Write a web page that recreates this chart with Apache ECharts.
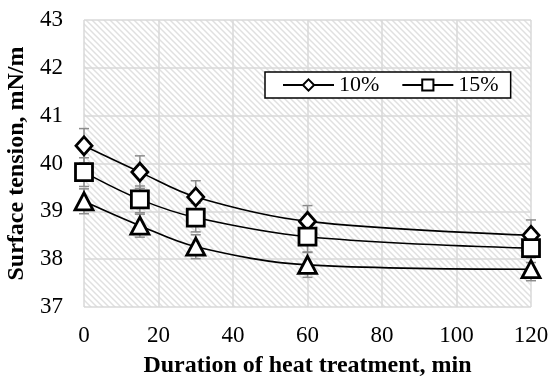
<!DOCTYPE html>
<html>
<head>
<meta charset="utf-8">
<script src="https://cdn.jsdelivr.net/npm/echarts@6/dist/echarts.min.js"></script>
<style>
  html, body { margin: 0; padding: 0; background: #fff; }
  #chart { width: 548px; height: 383px; }
</style>
</head>
<body>
<div id="chart"></div>
<script>
// heat treatment duration, min
const durations = [0, 15, 30, 60, 120];
// surface tension, mN/m
const tension10 = [40.37, 39.82, 39.30, 38.79, 38.50];
const tension15 = [39.82, 39.25, 38.87, 38.47, 38.23];
const tension3 = [39.21, 38.70, 38.26, 37.88, 37.79];
// error bar half widths
const err10 = [0.36, 0.34, 0.34, 0.33, 0.32];
const err15 = [0.30, 0.28, 0.30, 0.32, 0.30];
const err3 = [0.26, 0.24, 0.25, 0.26, 0.24];

const xTicks = [0, 20, 40, 60, 80, 100, 120];
const yTicks = [37, 38, 39, 40, 41, 42, 43];

const chart = echarts.init(document.getElementById('chart'));

// diagonal hatch for the plot area
const hatch = document.createElement('canvas');
hatch.width = 6;
hatch.height = 6;
const hctx = hatch.getContext('2d');
hctx.fillStyle = '#ffffff';
hctx.fillRect(0, 0, 6, 6);
hctx.strokeStyle = '#e0e0e0';
hctx.lineWidth = 1.5;
hctx.beginPath();
hctx.moveTo(-1, -1); hctx.lineTo(7, 7);
hctx.moveTo(-4, 2); hctx.lineTo(2, 8);
hctx.moveTo(2, -4); hctx.lineTo(8, 2);
hctx.stroke();

const pairs = (ys) => durations.map((x, i) => [x, ys[i]]);

function errorSeries(ys, errs) {
  return {
    type: 'custom',
    z: 1,
    silent: true,
    data: durations.map((x, i) => [x, ys[i] - errs[i], ys[i] + errs[i]]),
    renderItem: function (params, api) {
      const lo = api.coord([api.value(0), api.value(1)]);
      const hi = api.coord([api.value(0), api.value(2)]);
      const w = 5;
      const style = { stroke: '#8c8c8c', lineWidth: 1.5 };
      return {
        type: 'group',
        children: [
          { type: 'line', shape: { x1: lo[0], y1: lo[1], x2: hi[0], y2: hi[1] }, style: style },
          { type: 'line', shape: { x1: lo[0] - w, y1: lo[1], x2: lo[0] + w, y2: lo[1] }, style: style },
          { type: 'line', shape: { x1: hi[0] - w, y1: hi[1], x2: hi[0] + w, y2: hi[1] }, style: style }
        ]
      };
    }
  };
}

function lineSeries(name, ys, symbol, size) {
  return {
    name: name,
    type: 'line',
    z: 3,
    smooth: 0.35,
    data: pairs(ys),
    symbol: symbol,
    symbolSize: size,
    showAllSymbol: true,
    lineStyle: { color: '#000', width: 1.6 },
    itemStyle: { color: '#fff', borderColor: '#000', borderWidth: 2.8 }
  };
}

const font = '"Liberation Serif", "Times New Roman", serif';

chart.setOption({
  animation: false,
  textStyle: { fontFamily: font },
  grid: {
    left: 84, right: 17, top: 20, bottom: 76,
    outerBoundsMode: 'none',
    containLabel: false,
    show: true,
    borderWidth: 0,
    backgroundColor: { image: hatch, repeat: 'repeat' }
  },
  legend: {
    data: ['10%', '15%'],
    left: 265,
    top: 72,
    padding: [2, 12, 2, 17],
    itemGap: 22,
    itemWidth: 51,
    itemHeight: 14,
    backgroundColor: '#fff',
    borderColor: '#000',
    borderWidth: 1.5,
    borderRadius: 0,
    textStyle: { fontFamily: font, fontSize: 22, color: '#000' }
  },
  xAxis: {
    type: 'value',
    min: 0,
    max: 120,
    interval: 20,
    name: 'Duration of heat treatment, min',
    nameLocation: 'middle',
    nameGap: 47,
    nameTextStyle: { fontFamily: font, fontSize: 24, fontWeight: 'bold', color: '#000' },
    axisLine: { show: false },
    axisTick: { show: false },
    axisLabel: {
      margin: 17, fontSize: 23, color: '#000', fontFamily: font,
      formatter: (v) => xTicks.includes(v) ? String(v) : ''
    },
    splitLine: { show: true, lineStyle: { color: '#d9d9d9', width: 1.5 } }
  },
  yAxis: {
    type: 'value',
    min: 37,
    max: 43,
    interval: 1,
    name: 'Surface tension, mN/m',
    nameLocation: 'middle',
    nameGap: 48,
    nameTextStyle: { fontFamily: font, fontSize: 24, fontWeight: 'bold', color: '#000' },
    axisLine: { show: false },
    axisTick: { show: false },
    axisLabel: {
      margin: 21, fontSize: 23, color: '#000', fontFamily: font,
      formatter: (v) => yTicks.includes(v) ? String(v) : ''
    },
    splitLine: { show: true, lineStyle: { color: '#d9d9d9', width: 1.5 } }
  },
  series: [
    errorSeries(tension10, err10),
    errorSeries(tension15, err15),
    errorSeries(tension3, err3),
    lineSeries('10%', tension10, 'diamond', [16, 18]),
    lineSeries('15%', tension15, 'rect', 17),
    lineSeries('', tension3, 'triangle', [18, 17])
  ]
});
</script>
</body>
</html>
